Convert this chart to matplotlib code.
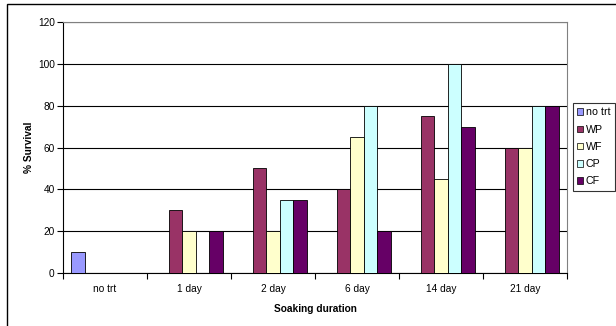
import numpy as np
import matplotlib
matplotlib.use('Agg')
import matplotlib.pyplot as plt
from matplotlib.patches import Rectangle

plt.rcParams['font.family'] = ['Liberation Sans', 'DejaVu Sans']

durations = ['no trt', '1 day', '2 day', '6 day', '14 day', '21 day']
series = ['no trt', 'WP', 'WF', 'CP', 'CF']
no_trt = [10, 0, 0, 0, 0, 0]
wp = [0, 30, 50, 40, 75, 60]
wf = [0, 20, 20, 65, 45, 60]
cp = [0, 0, 35, 80, 100, 80]
cf = [0, 20, 35, 20, 70, 80]
colors = ['#9999FF', '#993366', '#FFFFCC', '#CCFFFF', '#660066']

W, H = 616, 326
fs = 7.3
fig = plt.figure(figsize=(W / 100, H / 100), dpi=100)
ax = fig.add_axes([63 / W, (H - 273) / H, (567 - 63) / W, (273 - 22) / H])

x = np.arange(len(durations))
bw = 0.162
for i, (vals, c) in enumerate(zip([no_trt, wp, wf, cp, cf], colors)):
    ax.bar(x + (i - 2) * bw, vals, bw, color=c, edgecolor='black',
           linewidth=0.6, label=series[i], zorder=3)

ax.set_xlim(-0.5, len(durations) - 0.5)
ax.set_ylim(0, 120)
ax.set_yticks(range(0, 121, 20))
ax.set_xticks(x)
ax.set_xticklabels(durations)
ax.set_xticks(np.arange(-0.5, len(durations)), minor=True)
ax.tick_params(axis='x', which='major', length=0, pad=8, labelsize=fs)
ax.tick_params(axis='x', which='minor', length=4, width=0.8, direction='out')
ax.tick_params(axis='y', length=4, width=0.8, direction='out', pad=2, labelsize=fs)

ax.set_axisbelow(True)
ax.yaxis.grid(True, color='black', linewidth=0.8)
for s in ['top', 'right']:
    ax.spines[s].set_color('#808080')
for s in ['left', 'bottom']:
    ax.spines[s].set_color('black')
for s in ax.spines.values():
    s.set_linewidth(0.8)

ax.set_ylabel('% Survival', fontsize=fs, fontweight='bold', labelpad=3)
ax.set_xlabel('Soaking duration', fontsize=fs, fontweight='bold', labelpad=7)

leg = fig.legend(loc='upper left', bbox_to_anchor=(573 / W, 1 - 103 / H),
                 fontsize=fs + 0.4, frameon=True, fancybox=False,
                 handlelength=0.55, handleheight=0.55, handletextpad=0.25,
                 labelspacing=0.68, borderpad=0.4, borderaxespad=0)
leg.get_frame().set_edgecolor('black')
leg.get_frame().set_linewidth(0.8)
for h in leg.legend_handles:
    h.set_linewidth(0.5)

# chart area frame running off the right and bottom edges
fig.patches.append(Rectangle((7 / W, -0.1), 1.1, 1 - 4 / H + 0.1,
                             transform=fig.transFigure, fill=False,
                             edgecolor='black', linewidth=1.0, clip_on=False))

fig.savefig('out.png', dpi=100)
